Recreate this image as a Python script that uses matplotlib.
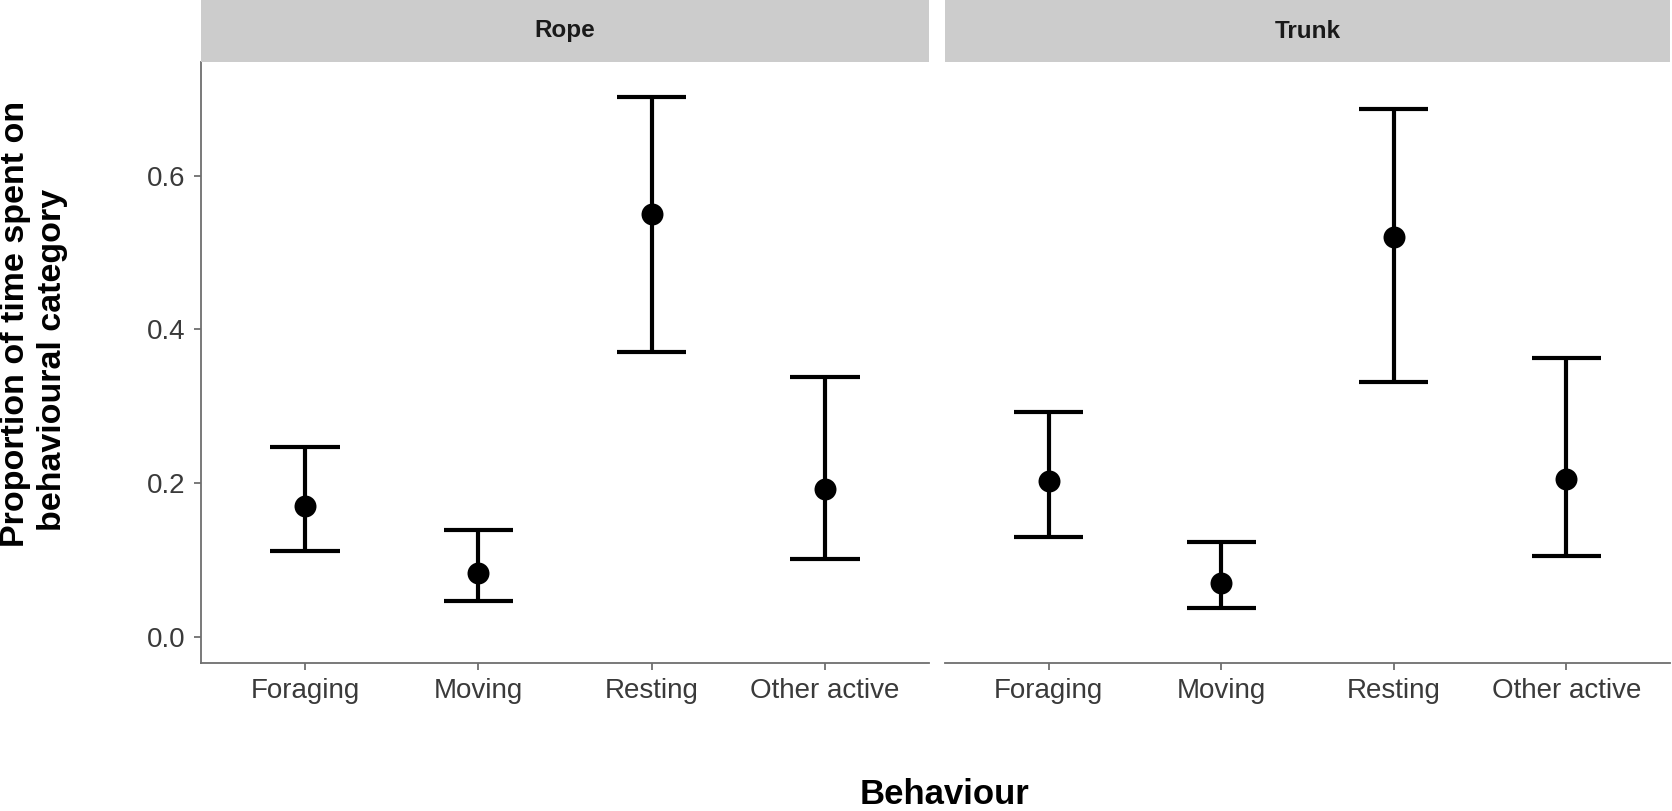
import numpy as np
import matplotlib
matplotlib.use("Agg")
import matplotlib.pyplot as plt

plt.rcParams['font.family'] = ['Liberation Sans', 'DejaVu Sans']

# data
behaviours = ["Foraging", "Moving", "Resting", "Other active"]
panels = ["Rope", "Trunk"]

rope_mean = [0.170, 0.083, 0.550, 0.193]
rope_lower = [0.112, 0.047, 0.371, 0.101]
rope_upper = [0.247, 0.139, 0.702, 0.338]

trunk_mean = [0.203, 0.070, 0.520, 0.206]
trunk_lower = [0.130, 0.037, 0.332, 0.105]
trunk_upper = [0.292, 0.124, 0.687, 0.363]

yticks = [0.0, 0.2, 0.4, 0.6]
ytick_labels = ["0.0", "0.2", "0.4", "0.6"]

W, H = 1672, 811
fig = plt.figure(figsize=(W / 100, H / 100), dpi=100)

def px(x0, y0, x1, y1):
    # pixel box (top-left origin) -> figure fraction rect
    return [x0 / W, 1 - y1 / H, (x1 - x0) / W, (y1 - y0) / H]

axis_col = '#6e6e6e'
tick_col = '#3a3a3a'

boxes = [(201, 929), (945, 1670)]
series = [(rope_mean, rope_lower, rope_upper), (trunk_mean, trunk_lower, trunk_upper)]

for i, (name, (x0, x1), (m, lo, hi)) in enumerate(zip(panels, boxes, series)):
    ax = fig.add_axes(px(x0, 62, x1, 663))
    x = np.arange(1, len(behaviours) + 1)
    ax.vlines(x, lo, hi, color='black', lw=3, zorder=2)
    ax.hlines(lo, x - 0.2, x + 0.2, color='black', lw=3, zorder=2)
    ax.hlines(hi, x - 0.2, x + 0.2, color='black', lw=3, zorder=2)
    ax.scatter(x, m, s=250, color='black', zorder=3, linewidths=0)

    ax.set_xlim(0.4, 4.6)
    ax.set_ylim(-0.034, 0.748)
    ax.set_xticks(x)
    ax.set_xticklabels(behaviours)
    ax.spines['top'].set_visible(False)
    ax.spines['right'].set_visible(False)
    ax.spines['bottom'].set_color(axis_col)
    ax.spines['bottom'].set_linewidth(1.3)
    ax.tick_params(axis='x', colors=axis_col, labelcolor=tick_col, labelsize=20,
                   length=5, width=1.3, pad=6)
    if i == 0:
        ax.set_yticks(yticks)
        ax.set_yticklabels(ytick_labels)
        ax.spines['left'].set_color(axis_col)
        ax.spines['left'].set_linewidth(1.3)
        ax.tick_params(axis='y', colors=axis_col, labelcolor=tick_col, labelsize=20,
                       length=5, width=1.3, pad=6)
    else:
        ax.spines['left'].set_visible(False)
        ax.set_yticks([])

    # facet strip
    sax = fig.add_axes(px(x0, 0, x1, 62))
    sax.set_facecolor('#CCCCCC')
    for s in sax.spines.values():
        s.set_visible(False)
    sax.set_xticks([])
    sax.set_yticks([])
    sax.text(0.5, 0.5, name, transform=sax.transAxes, ha='center', va='center',
             fontsize=17.5, fontweight='bold', color='#1A1A1A')

fig.text(945 / W, 1 - 794 / H, "Behaviour", ha='center', va='center',
         fontsize=25, fontweight='bold')
fig.text(16 / W, 1 - 324 / H, "Proportion of time spent on", rotation=90,
         ha='center', va='center', fontsize=24.5, fontweight='bold')
fig.text(53 / W, 1 - 360 / H, "behavioural category", rotation=90,
         ha='center', va='center', fontsize=24.5, fontweight='bold')

fig.savefig("out.png", dpi=100)
